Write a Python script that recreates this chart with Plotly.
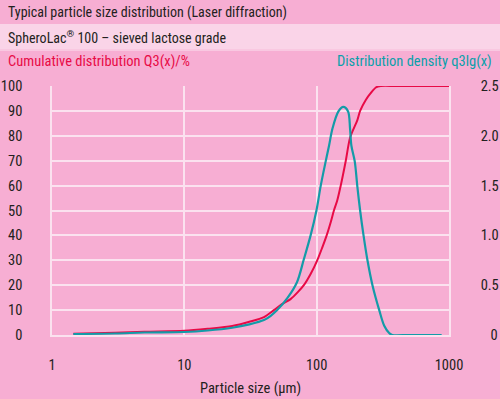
import plotly.graph_objects as go

# ---- data ----
size_cum = [1.45, 3, 5, 10, 15, 23, 31, 40, 47.5, 55, 63.5, 72, 80, 90, 101, 110,
            119, 128, 135, 143, 152, 166, 179, 203, 213, 235, 256, 280, 305, 400, 1000]
q3_cum = [0.5, 0.9, 1.3, 1.7, 2.5, 3.6, 5.3, 7.2, 10, 12.5, 14.4, 17.2, 20, 24.5, 30, 35,
          40, 45.5, 50, 54, 60, 70, 79.3, 86.3, 90, 94.4, 97.1, 99.4, 100, 100, 100]

size_dens = [1.45, 3, 5, 10, 15, 23, 31, 40, 44.7, 50.3, 60, 71, 80, 90, 99.6, 107, 117,
             124, 131.5, 146, 159, 172.7, 178.8, 183, 194, 203, 213, 226, 242, 264, 297,
             324, 353, 373, 500, 880]
q3lg_dens = [0.01, 0.015, 0.025, 0.03, 0.045, 0.073, 0.107, 0.15, 0.19, 0.25, 0.37, 0.53,
             0.76, 1.0, 1.25, 1.49, 1.743, 1.90, 2.07, 2.245, 2.29, 2.245, 2.07, 1.90, 1.743,
             1.49, 1.25, 1.0, 0.75, 0.5, 0.25, 0.093, 0.02, 0, 0, 0]

y_left_ticks = [0, 10, 20, 30, 40, 50, 60, 70, 80, 90, 100]
y_right_ticks = [0, 0.5, 1.0, 1.5, 2.0, 2.5]
y_right_labels = ["\u2007\u20090", "0.5", "1.0", "1.5", "2.0", "2.5"]
x_ticks = [1, 10, 100, 1000]
x_tick_labels = ["1", "10", "100", "1000"]

# ---- style ----
BG = "rgb(247,174,211)"
BAND = "rgb(250,212,232)"
GRID = "rgb(251,226,239)"
RED = "rgb(232,10,70)"
TEAL = "rgb(20,155,168)"
TXT = "rgb(35,31,32)"
FONT = "Roboto Condensed, Roboto, sans-serif"

W, H = 500, 399
ML, MR, MT, MB = 52, 51, 86, 64
PH = H - MT - MB
PW = W - ML - MR

def py(px):  # pixel y -> paper y
    return (H - MB - px) / PH

def pxx(px):  # pixel x -> paper x
    return (px - ML) / PW

fig = go.Figure()
fig.add_trace(go.Scatter(x=size_cum, y=q3_cum, mode="lines",
                         line=dict(color=RED, width=2, shape="spline", smoothing=0.8),
                         yaxis="y", hoverinfo="skip"))
fig.add_trace(go.Scatter(x=size_dens, y=q3lg_dens, mode="lines",
                         line=dict(color=TEAL, width=2.2, shape="spline", smoothing=0.9),
                         yaxis="y2", hoverinfo="skip"))

fig.update_layout(
    width=W, height=H,
    margin=dict(l=ML, r=MR, t=MT, b=MB, pad=0, autoexpand=False),
    paper_bgcolor=BG, plot_bgcolor=BG,
    showlegend=False,
    font=dict(family=FONT, color=TXT, size=14),
    xaxis=dict(type="log", range=[0, 3], tickvals=x_ticks, ticktext=x_tick_labels,
               showgrid=True, gridcolor=GRID, gridwidth=1.5, zeroline=False,
               showline=True, linecolor=GRID, linewidth=1.5, mirror=False,
               ticks="", ticklabelstandoff=16, automargin=False,
               tickfont=dict(size=14.5, color=TXT),
               title=dict(text="Particle size (µm)", font=dict(size=14.5, color=TXT), standoff=10)),
    yaxis=dict(range=[0, 100], tickvals=y_left_ticks, showgrid=True, gridcolor=GRID,
               gridwidth=1.5, zeroline=False, showline=True, linecolor=GRID, linewidth=1.5,
               ticks="", ticklabelstandoff=25, automargin=False,
               tickfont=dict(size=14.5, color=TXT)),
    yaxis2=dict(range=[0, 2.5], tickvals=y_right_ticks, ticktext=y_right_labels,
                overlaying="y", side="right", showgrid=False, zeroline=False,
                showline=True, linecolor=GRID, linewidth=1.5, automargin=False,
                ticks="", ticklabelstandoff=27, tickfont=dict(size=14.5, color=TXT)),
    shapes=[
        dict(type="rect", xref="paper", yref="paper", x0=pxx(0), x1=pxx(W),
             y0=py(49), y1=py(24), fillcolor=BAND, line=dict(width=0), layer="below"),
        dict(type="line", xref="paper", yref="paper", x0=pxx(0), x1=pxx(W),
             y0=py(50), y1=py(50), line=dict(color=GRID, width=1), layer="below"),
    ],
    annotations=[
        dict(text="Typical particle size distribution (Laser diffraction)", xref="paper", yref="paper",
             x=pxx(6), y=py(12.5), xanchor="left", yanchor="middle", showarrow=False,
             font=dict(size=14, color=TXT)),
        dict(text="SpheroLac<sup>®</sup> 100 – sieved lactose grade", xref="paper", yref="paper",
             x=pxx(6), y=py(37), xanchor="left", yanchor="middle", showarrow=False,
             font=dict(size=14, color=TXT)),
        dict(text="Cumulative distribution Q3(x)/%", xref="paper", yref="paper",
             x=pxx(6), y=py(62), xanchor="left", yanchor="middle", showarrow=False,
             font=dict(size=14.5, color=RED)),
        dict(text="Distribution density q3lg(x)", xref="paper", yref="paper",
             x=pxx(494), y=py(62), xanchor="right", yanchor="middle", showarrow=False,
             font=dict(size=14.5, color="rgb(10,160,170)")),
    ],
)

fig.write_html("out.html", config={"displayModeBar": False},
               post_script="document.body.style.margin='0';document.body.style.overflow='hidden';")
